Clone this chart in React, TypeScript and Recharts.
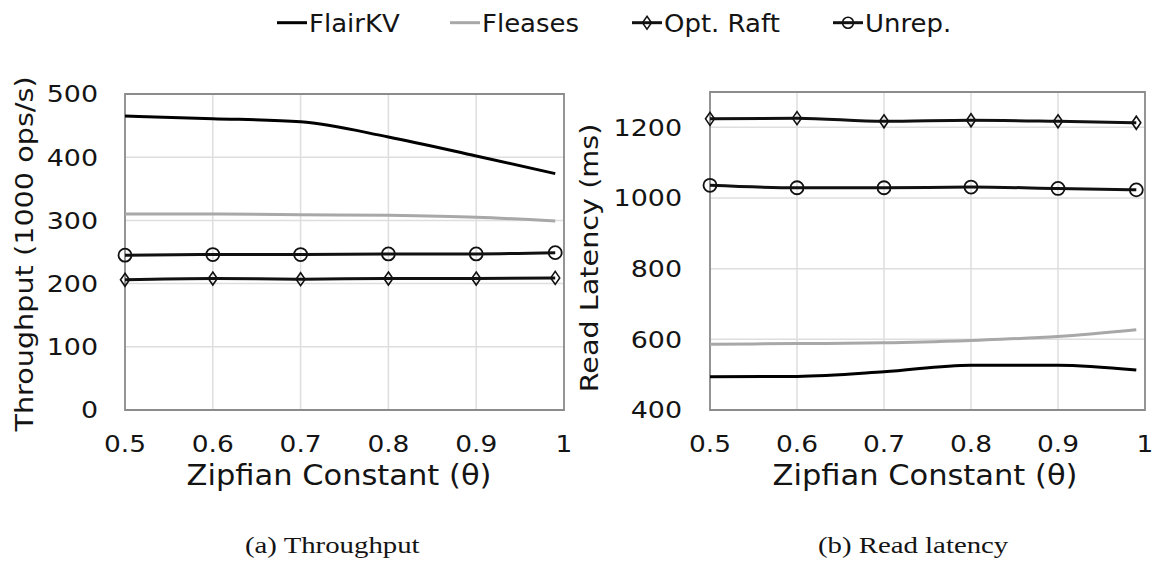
import React from "react";
import {
  LineChart,
  Line,
  XAxis,
  YAxis,
  CartesianGrid,
  ReferenceArea,
} from "recharts";

// ---------- data ----------
const zipf = [0.5, 0.6, 0.7, 0.8, 0.9, 0.99];
const xTicks = [0.5, 0.6, 0.7, 0.8, 0.9, 1];

const tputFlairKV = [465, 461, 456, 432, 402, 374];
const tputFleases = [310, 310, 309, 308, 305, 299];
const tputOptRaft = [206, 208, 207, 208, 208, 209];
const tputUnrep = [245, 246, 246, 247, 247, 249];
const tputTicks = [0, 100, 200, 300, 400, 500];

const latFlairKV = [494, 495, 508, 527, 527, 513];
const latFleases = [586, 588, 590, 597, 608, 627];
const latOptRaft = [1224, 1226, 1217, 1220, 1217, 1213];
const latUnrep = [1036, 1029, 1029, 1031, 1027, 1023];
const latTicks = [400, 600, 800, 1000, 1200];

const seriesNames = ["FlairKV", "Fleases", "Opt. Raft", "Unrep."];
const captions = ["(a) Throughput", "(b) Read latency"];
const xTitle = "Zipfian Constant (θ)";
const yTitleTput = "Throughput (1000 ops/s)";
const yTitleLat = "Read Latency (ms)";

const tputData = zipf.map((x, i) => ({
  x,
  flair: tputFlairKV[i],
  fleases: tputFleases[i],
  raft: tputOptRaft[i],
  unrep: tputUnrep[i],
}));
const latData = zipf.map((x, i) => ({
  x,
  flair: latFlairKV[i],
  fleases: latFleases[i],
  raft: latOptRaft[i],
  unrep: latUnrep[i],
}));

// ---------- styles ----------
const SANS = "'DejaVu Sans', sans-serif";
const SERIF = "'Liberation Serif', 'Times New Roman', serif";
const INK = "#141414";
const GRAY_LINE = "#a8a8a8";
const BORDER = "#8c8c8c";
const GRID = "#dedede";

type STProps = {
  x: number;
  y: number;
  sx: number;
  size: number;
  anchor: "start" | "middle" | "end";
  rotate?: number;
  family?: string;
  children: React.ReactNode;
};
const StretchText = ({ x, y, sx, size, anchor, rotate, family, children }: STProps) => (
  <text
    transform={`translate(${x},${y})${rotate ? ` rotate(${rotate})` : ""} scale(${sx},1)`}
    textAnchor={anchor}
    fontSize={size}
    fontFamily={family || SANS}
    fill={INK}
  >
    {children}
  </text>
);

const YTick = (p: any) => (
  <StretchText x={p.x} y={p.y + 8.4} sx={1.17} size={23} anchor="end">
    {p.payload.value}
  </StretchText>
);
const XTick = (p: any) => (
  <StretchText x={p.x} y={p.y + 41.7} sx={1.15} size={23} anchor="middle">
    {p.payload.value}
  </StretchText>
);

const Diamond = ({ cx, cy, w = 4.5, h = 6.5, sw = 1.6 }: any) => (
  <path
    d={`M${cx},${cy - h} L${cx + w},${cy} L${cx},${cy + h} L${cx - w},${cy} Z`}
    fill="none"
    stroke="#111"
    strokeWidth={sw}
  />
);
const Ring = ({ cx, cy, r = 6.5, sw = 1.8 }: any) => (
  <circle cx={cx} cy={cy} r={r} fill="none" stroke="#111" strokeWidth={sw} />
);

const diamondDot = (p: any) => <Diamond key={`d${p.index}`} cx={p.cx} cy={p.cy} />;
const ringDot = (p: any) => <Ring key={`r${p.index}`} cx={p.cx} cy={p.cy} />;

type PanelProps = {
  data: any[];
  width: number;
  marginTop: number;
  marginRight: number;
  yWidth: number;
  yMargin: number;
  domain: [number, number];
  ticks: number[];
  yTitle: string;
  yTitleX: number;
  yTitleY: number;
  xTitleX: number;
};

const Panel = (c: PanelProps) => (
  <LineChart
    width={c.width}
    height={500}
    data={c.data}
    margin={{ top: c.marginTop, right: c.marginRight, left: 0, bottom: 0 }}
  >
    <CartesianGrid stroke={GRID} strokeWidth={1.5} />
    <XAxis
      type="number"
      dataKey="x"
      domain={[0.5, 1]}
      ticks={xTicks}
      height={90}
      axisLine={false}
      tickLine={false}
      tickSize={0}
      tickMargin={0}
      tick={(p: any) => <XTick {...p} />}
      interval={0}
      label={() => (
        <StretchText x={c.xTitleX} y={485} sx={1.09} size={28} anchor="middle">
          {xTitle}
        </StretchText>
      )}
    />
    <YAxis
      type="number"
      domain={c.domain}
      ticks={c.ticks}
      width={c.yWidth}
      axisLine={false}
      tickLine={false}
      tickSize={0}
      tickMargin={c.yMargin}
      tick={(p: any) => <YTick {...p} />}
      interval={0}
      label={() => (
        <StretchText x={c.yTitleX} y={c.yTitleY} sx={1.17} size={24.5} anchor="middle" rotate={-90}>
          {c.yTitle}
        </StretchText>
      )}
    />
    <ReferenceArea
      x1={0.5}
      x2={1}
      y1={c.domain[0]}
      y2={c.domain[1]}
      fill="none"
      stroke={BORDER}
      strokeWidth={1.8}
      ifOverflow="visible"
    />
    <Line type="monotone" dataKey="fleases" stroke={GRAY_LINE} strokeWidth={3} dot={false} activeDot={false} isAnimationActive={false} />
    <Line type="monotone" dataKey="flair" stroke="#000" strokeWidth={3} dot={false} activeDot={false} isAnimationActive={false} />
    <Line type="monotone" dataKey="raft" stroke="#111" strokeWidth={3} dot={diamondDot} activeDot={false} isAnimationActive={false} />
    <Line type="monotone" dataKey="unrep" stroke="#111" strokeWidth={3} dot={ringDot} activeDot={false} isAnimationActive={false} />
  </LineChart>
);

const legendLayout = [
  { x: 277, color: "#000", marker: "none" },
  { x: 450, color: GRAY_LINE, marker: "none" },
  { x: 632, color: "#111", marker: "diamond" },
  { x: 833, color: "#111", marker: "ring" },
];

const Overlay = () => (
  <svg
    width={1156}
    height={565}
    style={{ position: "absolute", left: 0, top: 0, pointerEvents: "none" }}
  >
    {seriesNames.map((name, i) => {
      const L = legendLayout[i];
      const ly = 22.7;
      return (
        <g key={name}>
          <line x1={L.x} x2={L.x + 30} y1={ly} y2={ly} stroke={L.color} strokeWidth={3} />
          {L.marker === "diamond" && <Diamond cx={L.x + 15} cy={ly} w={4.5} h={6.5} sw={1.5} />}
          {L.marker === "ring" && <Ring cx={L.x + 15} cy={ly} r={5.5} sw={1.6} />}
          <StretchText x={L.x + 32} y={31.7} sx={1.06} size={24.5} anchor="start">
            {name}
          </StretchText>
        </g>
      );
    })}
    <StretchText x={245} y={553} sx={1.2} size={24} anchor="start" family={SERIF}>
      {captions[0]}
    </StretchText>
    <StretchText x={818} y={553} sx={1.2} size={24} anchor="start" family={SERIF}>
      {captions[1]}
    </StretchText>
  </svg>
);

export default function App() {
  return (
    <div
      style={{
        position: "absolute",
        left: 0,
        top: 0,
        width: 1156,
        height: 565,
        background: "#fff",
        overflow: "hidden",
      }}
    >
      <div style={{ position: "absolute", left: 0, top: 0 }}>
        <Panel
          data={tputData}
          width={585}
          marginTop={94}
          marginRight={21}
          yWidth={125}
          yMargin={27}
          domain={[0, 500]}
          ticks={tputTicks}
          yTitle={yTitleTput}
          yTitleX={33}
          yTitleY={254}
          xTitleX={339}
        />
      </div>
      <div style={{ position: "absolute", left: 560, top: 0 }}>
        <Panel
          data={latData}
          width={596}
          marginTop={92}
          marginRight={11}
          yWidth={150}
          yMargin={28}
          domain={[400, 1300]}
          ticks={latTicks}
          yTitle={yTitleLat}
          yTitleX={38}
          yTitleY={258}
          xTitleX={365}
        />
      </div>
      <Overlay />
    </div>
  );
}
